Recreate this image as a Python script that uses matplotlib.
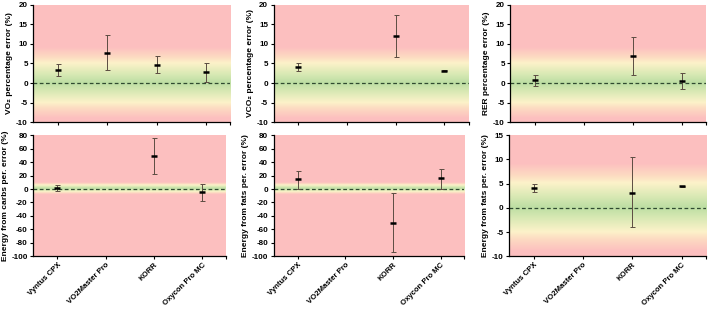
import matplotlib as mpl
mpl.use('Agg')
import numpy as np
import matplotlib.pyplot as plt

plt.rcParams['font.family'] = ['Liberation Sans', 'DejaVu Sans']
plt.rcParams['font.weight'] = 'bold'
plt.rcParams['axes.unicode_minus'] = False

###########################################
## data
DEVICES = ["Vyntus CPX", "VO2Master Pro", "KORR", "Oxycon Pro MC"]

VO2_MEAN = [3.3, 7.8, 4.6, 2.7]
VO2_LO = [1.7, 3.3, 2.5, 0.3]
VO2_HI = [4.8, 12.4, 6.8, 5.1]

VCO2_MEAN = [4.1, np.nan, 12.0, 3.15]
VCO2_LO = [3.1, np.nan, 6.6, 3.0]
VCO2_HI = [5.2, np.nan, 17.3, 3.3]

RER_MEAN = [0.8, np.nan, 6.9, 0.4]
RER_LO = [-0.7, np.nan, 2.1, -1.6]
RER_HI = [2.1, np.nan, 11.9, 2.5]

CHO_MEAN = [1.5, np.nan, 48.8, -4.9]
CHO_LO = [-3.0, np.nan, 22.7, -17.7]
CHO_HI = [6.4, np.nan, 75.4, 6.9]

FAT_MEAN = [14.3, np.nan, -49.8, 15.8]
FAT_LO = [0.0, np.nan, -94.0, 0.0]
FAT_HI = [27.0, np.nan, -6.4, 30.0]

FAT2_MEAN = [4.1, np.nan, 3.1, 4.5]
FAT2_LO = [3.3, np.nan, -4.0, 4.4]
FAT2_HI = [5.0, np.nan, 10.4, 4.6]

YLABELS = ["VO\u2082 percentage error (%)", "VCO\u2082 percentage error (%)", "RER percentage error (%)",
           "Energy from carbs per. error (%)", "Energy from fats per. error (%)", "Energy from fats per. error (%)"]

PANELS = [
  (VO2_MEAN, VO2_LO, VO2_HI, (-10, 20), np.arange(-10, 21, 5)),
  (VCO2_MEAN, VCO2_LO, VCO2_HI, (-10, 20), np.arange(-10, 21, 5)),
  (RER_MEAN, RER_LO, RER_HI, (-10, 20), np.arange(-10, 21, 5)),
  (CHO_MEAN, CHO_LO, CHO_HI, (-100, 80), np.arange(-100, 81, 20)),
  (FAT_MEAN, FAT_LO, FAT_HI, (-100, 80), np.arange(-100, 81, 20)),
  (FAT2_MEAN, FAT2_LO, FAT2_HI, (-10, 15), np.arange(-10, 16, 5)),
]

## axes positions [left, bottom, width, height]
POS = [
  [0.047, 0.605, 0.278, 0.379], [0.386, 0.605, 0.275, 0.379], [0.720, 0.605, 0.276, 0.379],
  [0.047, 0.170, 0.272, 0.393], [0.386, 0.170, 0.269, 0.393], [0.718, 0.170, 0.278, 0.393],
]

## background colour as function of |error|
BG_V = [0, 2, 5, 6.5, 9]
BG_C = np.array([[0.74, 0.87, 0.64], [0.84, 0.91, 0.70], [0.99, 0.95, 0.79], [0.99, 0.86, 0.76], [0.99, 0.75, 0.75]])

def background(ax, ylim):
  yy = np.linspace(ylim[0], ylim[1], 600)
  a = np.abs(yy)
  rgb = np.stack([np.interp(a, BG_V, BG_C[:, k]) for k in range(3)], axis=1)
  img = np.repeat(rgb[:, None, :], 2, axis=1)
  ax.imshow(img, extent=[0.5, 4.5, ylim[0], ylim[1]], origin='lower', aspect='auto', zorder=0)

fig = plt.figure(figsize=(7.09, 3.09), dpi=100)
x = np.arange(1, 5)

for i, (m, lo, hi, ylim, yt) in enumerate(PANELS):
  ax = fig.add_axes(POS[i])
  background(ax, ylim)
  m = np.array(m); lo = np.array(lo); hi = np.array(hi)
  ax.errorbar(x, m, yerr=[m - lo, hi - m], fmt='none', ecolor='#5b4c42', elinewidth=0.7, capsize=1.8, capthick=0.7, zorder=3)
  ax.plot(x, m, ls='none', marker='_', ms=4.5, mew=1.8, color='black', zorder=4)
  ax.axhline(0, color='#2f4a30', lw=0.9, dashes=(3, 2), zorder=2)
  ax.set_xlim(0.5, 4.5)
  ax.set_ylim(*ylim)
  ax.set_yticks(yt)
  ax.set_xticks(x)
  ax.set_xticks([4.5], minor=True)
  ax.tick_params(axis='both', which='both', direction='out', length=2.5, width=0.8, labelsize=5.8, pad=1.5)
  for s in ['top', 'right']:
    ax.spines[s].set_visible(False)
  for s in ['left', 'bottom']:
    ax.spines[s].set_linewidth(0.9)
  if i < 3:
    ax.set_xticklabels([])
  else:
    ax.set_xticklabels(DEVICES, rotation=45, ha='right', rotation_mode='anchor', fontsize=5.6, fontweight='bold')
    ax.tick_params(axis='x', pad=1)
  for lab in ax.get_yticklabels():
    lab.set_fontweight('bold')
  ax.set_ylabel(YLABELS[i], fontsize=6, fontweight='bold', labelpad=2)

plt.savefig('out.png', dpi=100)
plt.close()
